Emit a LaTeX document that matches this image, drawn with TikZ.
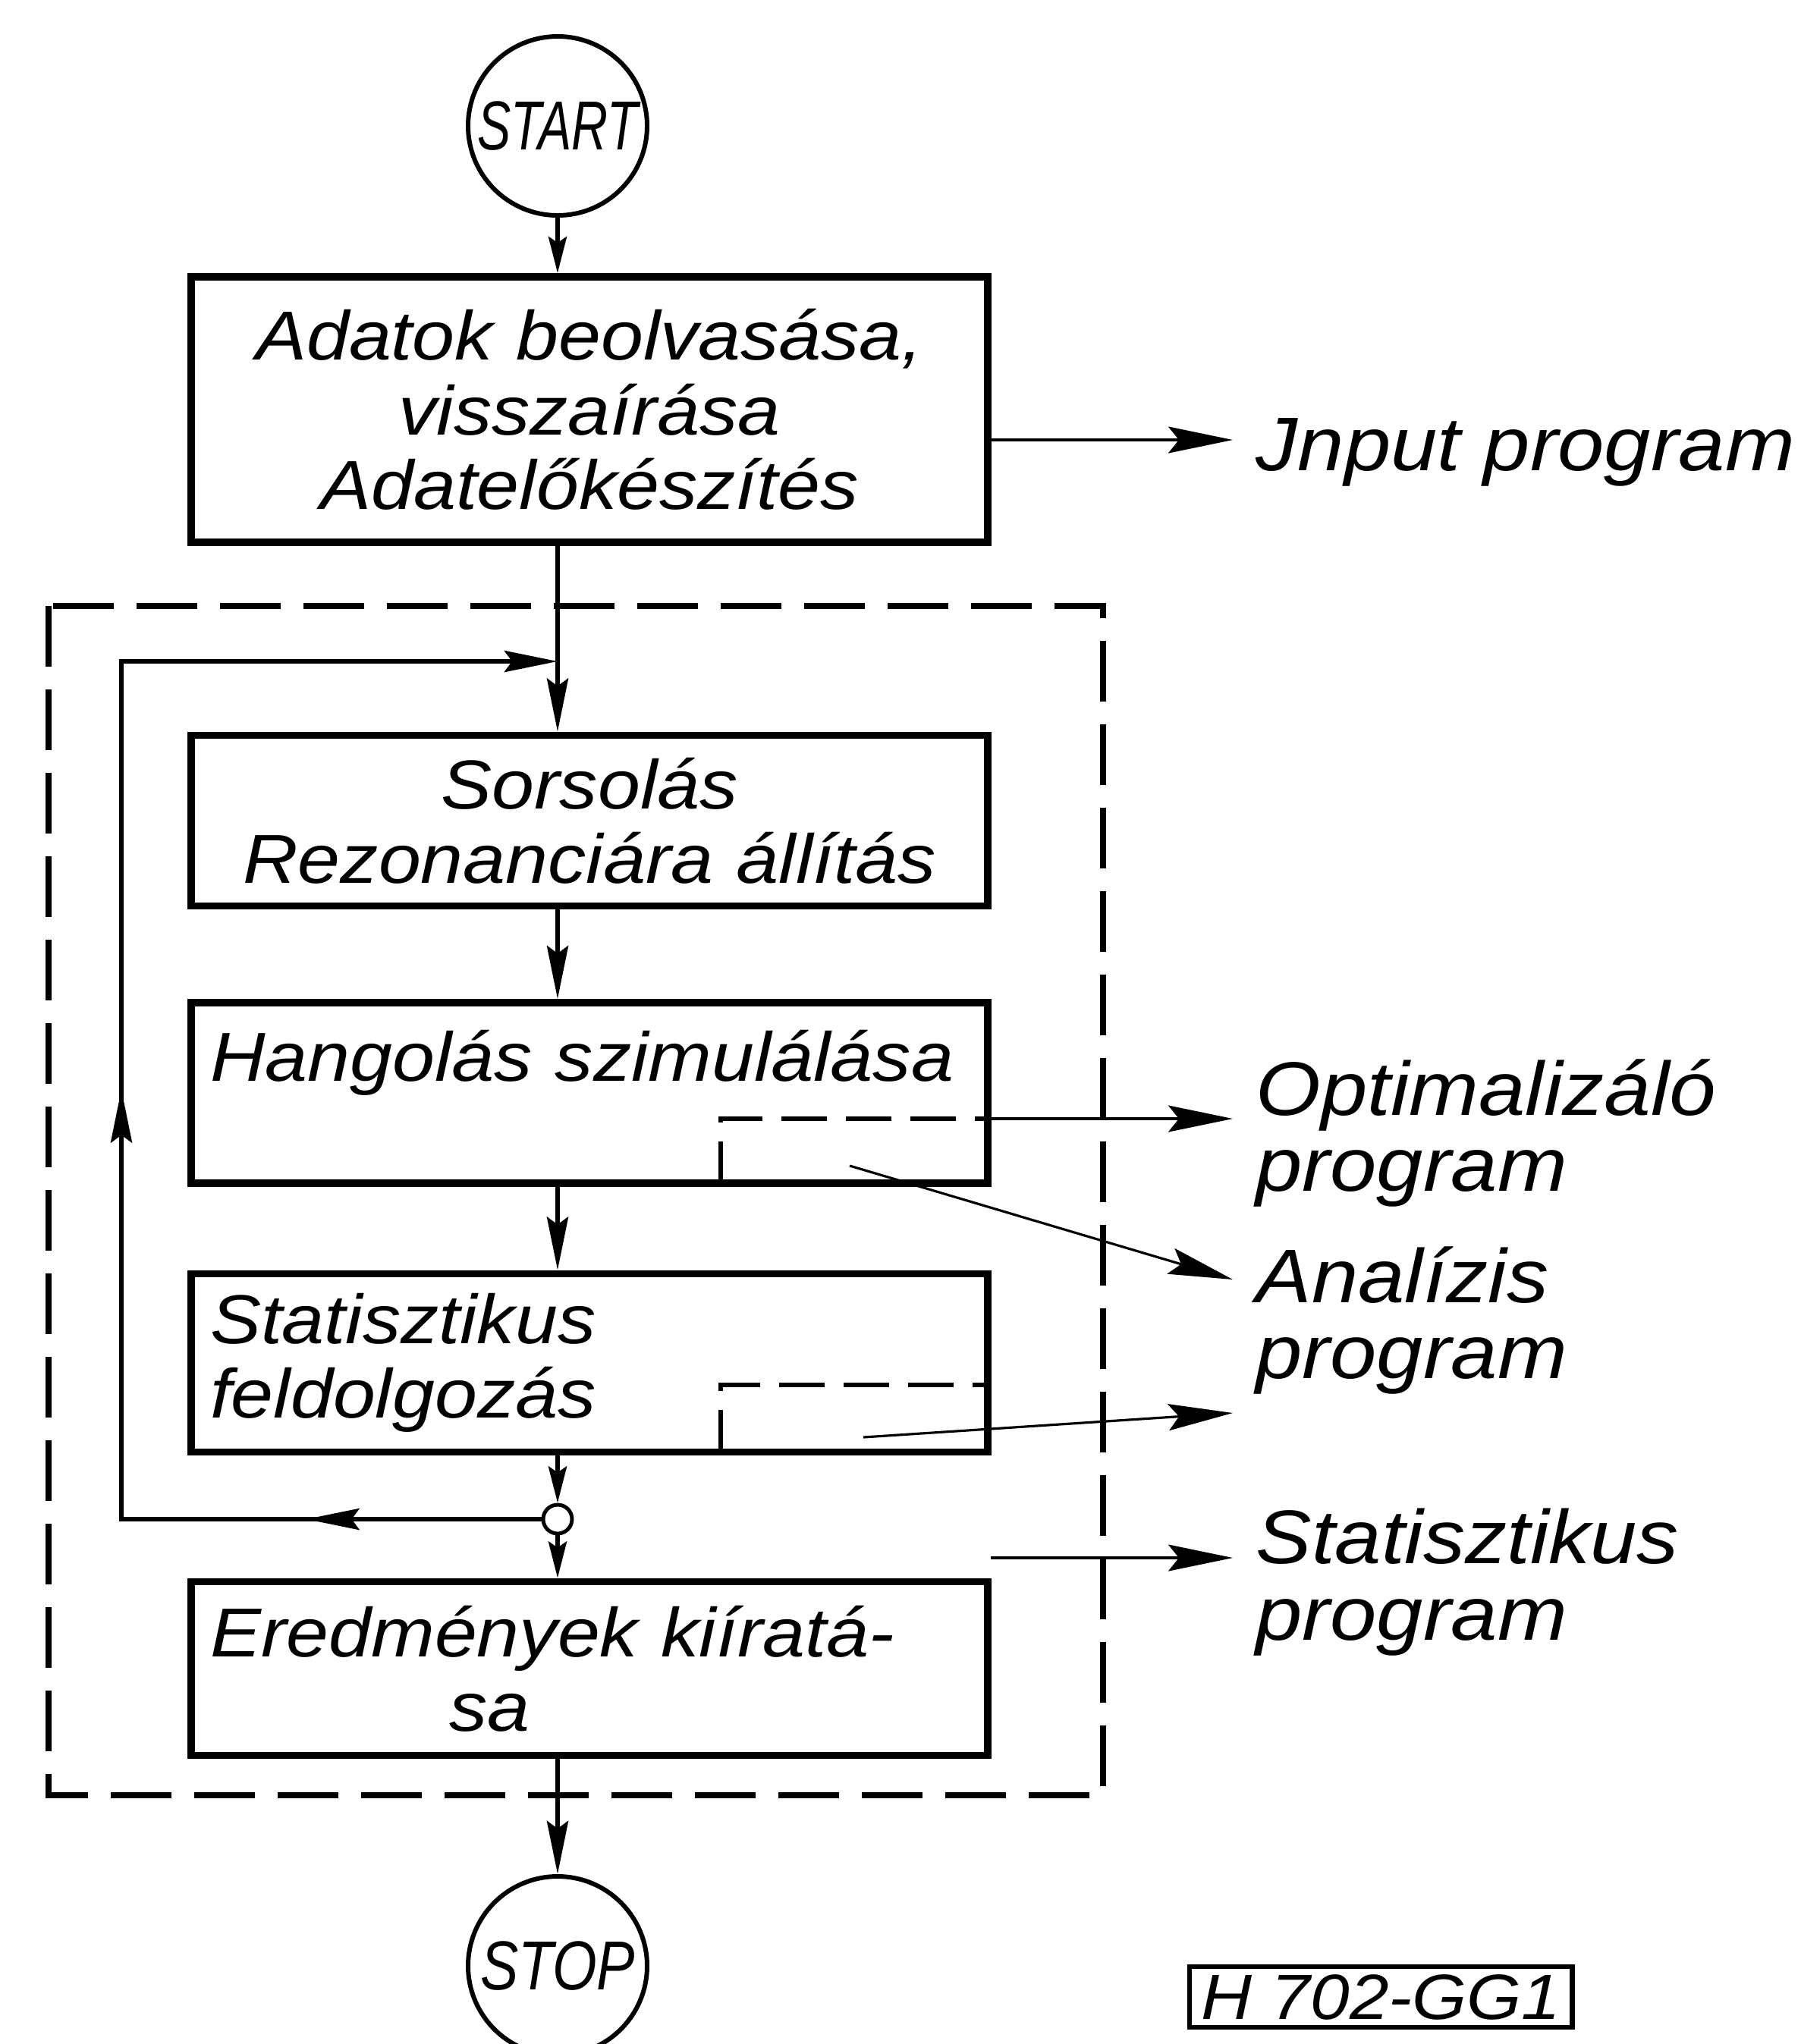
\documentclass[tikz,border=0pt]{standalone}
\usepackage{graphicx}
\usepackage{fontspec}
\setmainfont{Liberation Sans}[FakeStretch=1.1]
\usetikzlibrary{arrows.meta,decorations.markings}

\newcommand{\boxfont}{\itshape\fontsize{26}{28}\selectfont}
\newcommand{\labfont}{\itshape\fontsize{28.5}{28.5}\selectfont}
\newcommand{\codefont}{\itshape\fontsize{24}{26}\selectfont}

\begin{document}
\begin{tikzpicture}[
  >={Stealth[length = 7mm, width = 2.8mm, inset = 1mm]},
  box/.style = {draw, line width = 2.8pt, minimum width = 10.5cm, text width = 10cm, inner xsep = 0.25cm, font = \boxfont},
  term/.style = {draw, circle, line width = 1.7pt, minimum size = 2.36cm, inner sep = 0pt, font = \boxfont},
  lbl/.style = {anchor = west, align = left, inner xsep = 0.3cm, inner ysep = 0pt, font = \labfont},
  flow/.style = {line width = 1.7pt, ->},
  flowshort/.style = {line width = 1.7pt, -{Stealth[length = 4.8mm, width = 2.4mm, inset = 0.8mm]}},
  toprog/.style = {line width = 0.9pt, -{Stealth[length = 8.5mm, width = 3.5mm, inset = 1.4mm]}},
  innerdash/.style = {line width = 1.8pt, dash pattern = on 6mm off 2.5mm},
  loopframe/.style = {line width = 2.2pt, dash pattern = on 8mm off 3mm}
]
\useasboundingbox (0, 0) rectangle (23.74, -26.95);

% flowchart
\node (start) [term] at (7.35, -1.66) {\scalebox{0.66}[1]{START}};
\node (read) [box, align = center, minimum height = 3.5cm] at (7.77, -5.40)
  {Adatok beolvasása,\\visszaírása\\Adatelőkészítés};
\node (lot) [box, align = center, minimum height = 2.25cm] at (7.77, -10.82)
  {Sorsolás\\Rezonanciára állítás};
\node (tune) [box, align = left, minimum height = 2.38cm] at (7.77, -14.41)
  {Hangolás szimulálása\\\mbox{}};
\node (stat) [box, align = left, minimum height = 2.35cm] at (7.77, -17.97)
  {Statisztikus\\feldolgozás};
\node (junc) [draw, circle, line width = 1.4pt, minimum size = 0.38cm, inner sep = 0pt] at (7.35, -20.03) {};
\node (print) [box, align = left, minimum height = 2.29cm] at (7.77, -22.00)
  {Eredmények kiíratá-\\\hspace*{3.15cm}sa};
\node (stop) [term] at (7.35, -25.92) {\scalebox{0.75}[1]{STOP}};

% programs
\node (inp) [lbl] at (16.25, -5.96) {Jnput program};
\node (opt) [lbl] at (16.25, -14.94) {Optimalizáló\\program};
\node (ana) [lbl] at (16.25, -17.41) {Analízis\\program};
\node (stp) [lbl] at (16.25, -20.86) {Statisztikus\\program};
\node (code) [draw, line width = 1.8pt, anchor = north west, inner xsep = 0.15cm, inner ysep = 0.1cm, font = \codefont]
  at (15.65, -25.90) {H 702-GG1};

\coordinate (merge) at (7.35, -8.72);
\coordinate (loopt) at (1.6, -8.72);
\coordinate (loopb) at (1.6, -20.03);
\coordinate (optq) at (9.5, -14.75);
\coordinate (anaq) at (11.2, -15.37);
\coordinate (statq) at (9.5, -18.26);
\coordinate (statr) at (11.38, -18.95);
\coordinate (stq) at (13.06, -20.54);

\draw[loopframe] (0.64, -7.99) rectangle (14.54, -23.67);

\draw[flowshort] (start) -- (start |- read.north);
\draw[flow] (start |- read.south) -- (start |- lot.north);
\draw[flow] (start |- lot.south) -- (start |- tune.north);
\draw[flow] (start |- tune.south) -- (start |- stat.north);
\draw[flowshort] (start |- stat.south) -- (junc);
\draw[flowshort] (junc) -- (start |- print.north);
\draw[flow] (start |- print.south) -- (stop);

% loop back
\draw[flow, postaction = {decorate}, decoration = {markings,
    mark = at position 3.1cm with {\arrow{>}},
    mark = at position 11.2cm with {\arrow{>}}}]
  (junc) -- (loopb) -- (loopt) -- (merge);

\draw[innerdash] (tune.south -| optq) -- (optq) -- (optq -| tune.east);
\draw[toprog] (optq -| tune.east) -- (optq -| opt.west);
\draw[toprog] (anaq) -- ([yshift = 5.4mm]ana.west);
\draw[innerdash] (stat.south -| statq) -- (statq) -- (statq -| stat.east);
\draw[toprog] (statr) -- ([yshift = -12.2mm]ana.west);
\draw[toprog] (stq) -- (stq -| stp.west);
\draw[toprog] ([yshift = -4mm]read.east) -- ([yshift = -4mm]read.east -| inp.west);
%\draw[toprog] (stat.east) -- (stp.west);
\end{tikzpicture}
\end{document}
